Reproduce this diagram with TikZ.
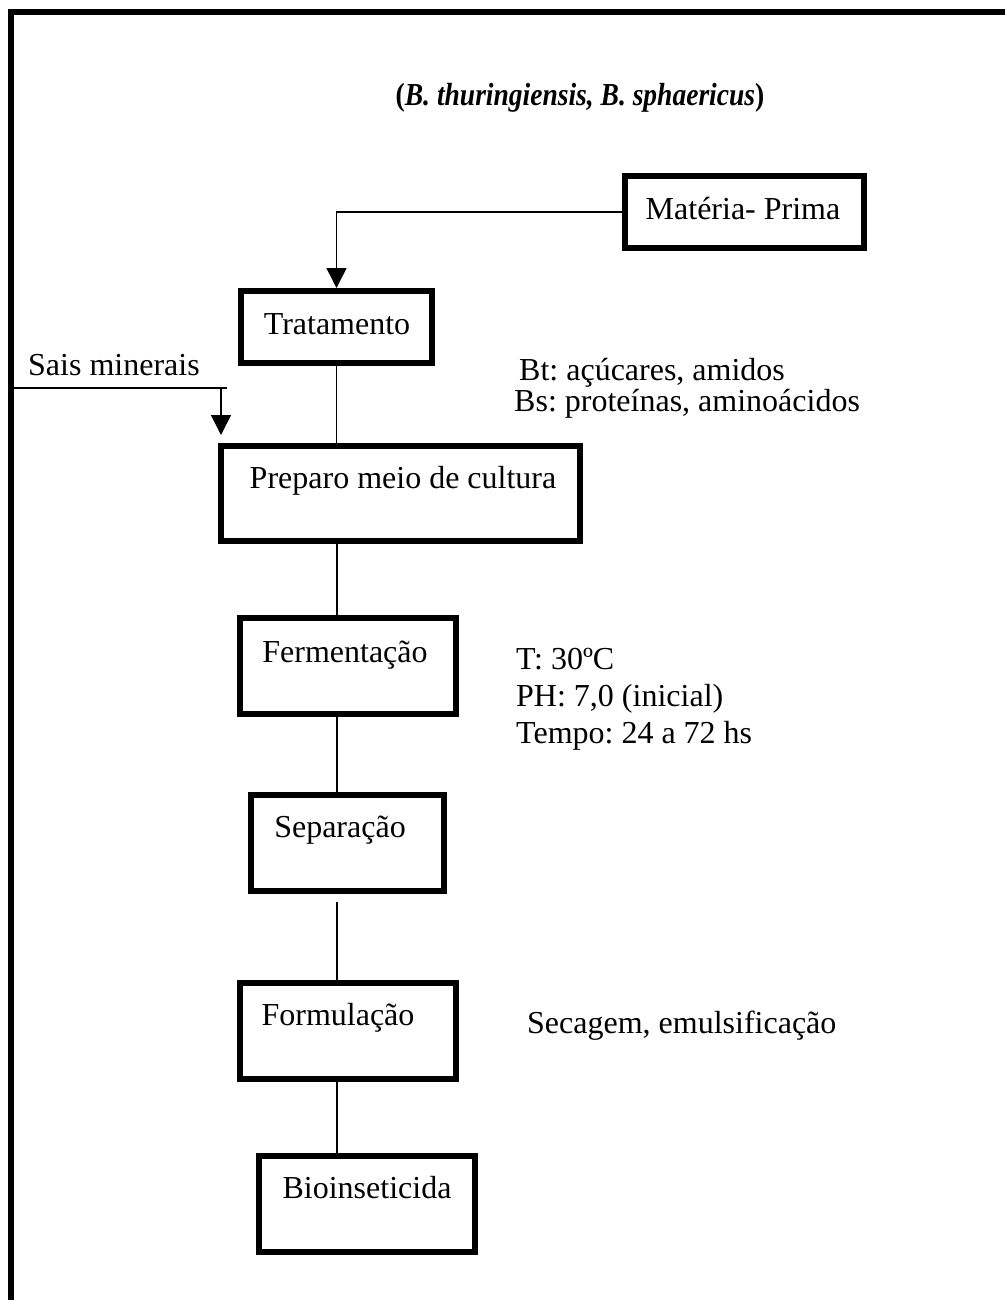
\documentclass[tikz,border=0pt]{standalone}
\usepackage{fontspec}
\setmainfont{Liberation Serif}
\newfontfamily\titlefont[FakeStretch=0.86]{Liberation Serif}
\usetikzlibrary{arrows.meta}
\frenchspacing
\begin{document}
\begin{tikzpicture}[x=1pt,y=-1pt,
  box/.style={draw,line width=5.8pt,inner sep=0pt,outer sep=0pt},
  lbl/.style={inner sep=0pt,anchor=base west,font=\fontsize{32}{38}\selectfont\frenchspacing},
  ctr/.style={inner sep=0pt,anchor=base,font=\fontsize{32}{38}\selectfont\frenchspacing},
  conn/.style={line width=1.5pt},
  arr/.style={conn,-{Triangle[width=20pt,length=20pt]}}]
\useasboundingbox (0,0) rectangle (1005,1300);
% frame
\coordinate (fbl) at (11,1300);
\coordinate (ftl) at (11,12);
\coordinate (ftr) at (1005,12);
\draw[line width=6pt] (fbl) -- (ftl) -- (ftr);
% title
\node[inner sep=0pt,anchor=base,font=\titlefont\fontsize{32}{38}\selectfont\frenchspacing] (title) at (580,106) {\textbf{(\textit{B. thuringiensis, B. sphaericus})}};
% boxes
\node[box,minimum width=239pt,minimum height=72pt] (mp) at (744.3,212) {};
\node[box,minimum width=191pt,minimum height=72pt] (trat) at (336.5,327) {};
\node[box,minimum width=359pt,minimum height=95pt] (prep) at (400.5,493.5) {};
\node[box,minimum width=216pt,minimum height=96pt] (ferm) at (348,666) {};
\node[box,minimum width=193pt,minimum height=96pt] (sep) at (347.5,843) {};
\node[box,minimum width=216pt,minimum height=96pt] (form) at (348,1031) {};
\node[box,minimum width=216pt,minimum height=96pt] (bio) at (367,1204) {};
% box texts
\node[ctr] (mpt) at (743,219) {Matéria- Prima};
\node[ctr] (tratt) at (337,334) {Tratamento};
\node[ctr] (prept) at (403,488) {Preparo meio de cultura};
\node[ctr] (fermt) at (345,662) {Fermentação};
\node[ctr] (sept) at (340,837) {Separação};
\node[ctr] (formt) at (338,1025) {Formulação};
\node[ctr] (biot) at (367,1198) {Bioinseticida};
% side notes
\node[lbl] (sais) at (28,375) {Sais minerais};
\node[lbl] (bt) at (519,380) {Bt: açúcares, amidos};
\node[lbl] (bs) at (514,411) {Bs: proteínas, aminoácidos};
\node[lbl] (t30) at (516,669) {T: 30ºC};
\node[lbl] (ph) at (516,706) {PH: 7,0 (inicial)};
\node[lbl] (tempo) at (516,743) {Tempo: 24 a 72 hs};
\node[lbl] (sec) at (527,1033) {Secagem, emulsificação};
% connectors
\coordinate (spine) at (337,0);
\draw[arr,shorten >=3pt] (mp.west) -| (trat.north);
\draw[conn] (trat.south) -- (trat.south |- prep.north);
\draw[conn] (prep.south -| spine) -- (ferm.north -| spine);
\draw[conn] (ferm.south -| spine) -- (sep.north -| spine);
\draw[conn] ([yshift=-11pt]sep.south -| spine) -- (form.north -| spine);
\draw[conn] (form.south -| spine) -- (bio.north -| spine);
\coordinate (sL) at (14,388);
\coordinate (sR) at (227,388);
\coordinate (sA) at (221,388);
\draw[conn] (sL) -- (sR);
\draw[arr,shorten >=11pt] (sA) -- (sA |- prep.north);
\end{tikzpicture}
\end{document}
